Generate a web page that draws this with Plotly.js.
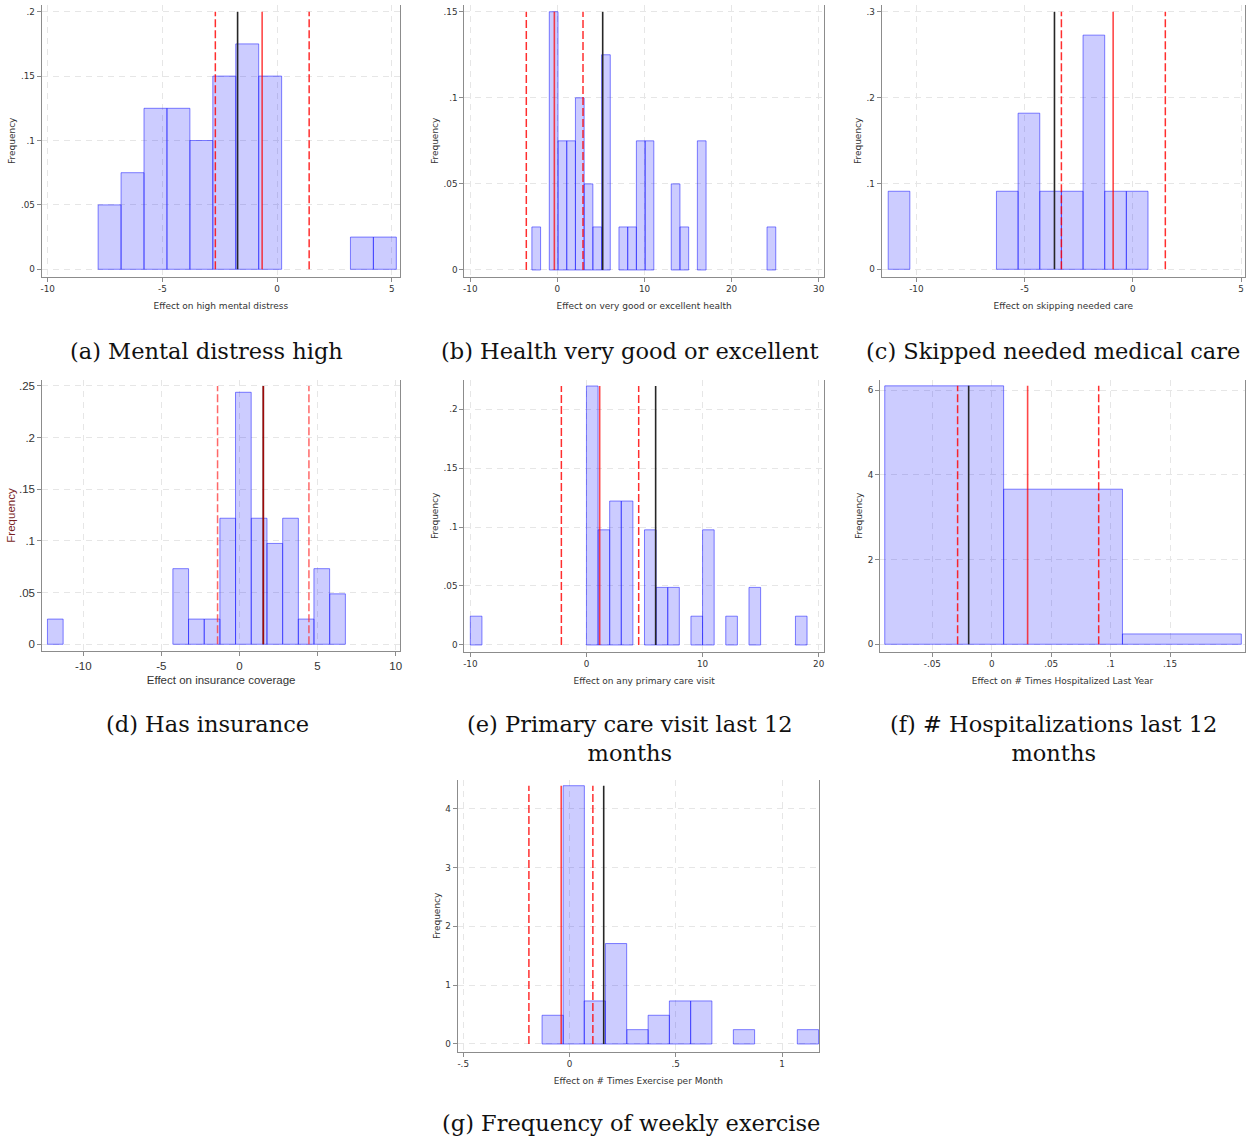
<!DOCTYPE html>
<html><head><meta charset="utf-8">
<script src="https://cdn.plot.ly/plotly-3.0.1.min.js"></script>
<style>html,body{margin:0;padding:0;background:#fff}#chart{width:1251px;height:1141px}</style>
</head><body><div id="chart"></div>
<script>
// ---------- DATA ----------
// (a) Mental distress high
const aBinLeft = [-7.8, -6.8, -5.8, -4.8, -3.8, -2.8, -1.8, -0.8, 3.2, 4.2];
const aFreq = [0.05, 0.075, 0.125, 0.125, 0.1, 0.15, 0.175, 0.15, 0.025, 0.025];
const aBinWidth = 1.0;
const aEstimate = -0.65, aCI = [-2.69, 1.40], aBenchmark = -1.72;
const aXTicks = [-10, -5, 0, 5], aXLabels = ['-10', '-5', '0', '5'];
const aYTicks = [0, 0.05, 0.1, 0.15, 0.2], aYLabels = ['0', '.05', '.1', '.15', '.2'];
const aXTitle = 'Effect on high mental distress';
const aCaption = '(a) Mental distress high';

// (b) Health very good or excellent
const bBinLeft = [-2.93, -0.93, 0.07, 1.07, 2.07, 3.07, 4.07, 5.07, 7.07, 8.07, 9.07, 10.07, 13.07, 14.07, 16.07, 24.07];
const bFreq = [0.025, 0.15, 0.075, 0.075, 0.1, 0.05, 0.025, 0.125, 0.025, 0.025, 0.075, 0.075, 0.05, 0.025, 0.075, 0.025];
const bBinWidth = 1.0;
const bEstimate = -0.35, bCI = [-3.57, 2.94], bBenchmark = 5.20;
const bXTicks = [-10, 0, 10, 20, 30], bXLabels = ['-10', '0', '10', '20', '30'];
const bYTicks = [0, 0.05, 0.1, 0.15], bYLabels = ['0', '.05', '.1', '.15'];
const bXTitle = 'Effect on very good or excellent health';
const bCaption = '(b) Health very good or excellent';

// (c) Skipped needed medical care
const cBinLeft = [-11.3, -6.3, -5.3, -4.3, -3.3, -2.3, -1.3, -0.3];
const cFreq = [0.0909, 0.0909, 0.1818, 0.0909, 0.0909, 0.2727, 0.0909, 0.0909];
const cBinWidth = 1.0;
const cEstimate = -0.91, cCI = [-3.30, 1.50], cBenchmark = -3.62;
const cXTicks = [-10, -5, 0, 5], cXLabels = ['-10', '-5', '0', '5'];
const cYTicks = [0, 0.1, 0.2, 0.3], cYLabels = ['0', '.1', '.2', '.3'];
const cXTitle = 'Effect on skipping needed care';
const cCaption = '(c) Skipped needed medical care';

// (d) Has insurance
const dBinLeft = [-12.29, -4.26, -3.26, -2.25, -1.25, -0.25, 0.76, 1.76, 2.77, 3.77, 4.77, 5.78];
const dFreq = [0.0244, 0.0732, 0.0244, 0.0244, 0.122, 0.2439, 0.122, 0.0976, 0.122, 0.0244, 0.0732, 0.0488];
const dBinWidth = 1.0036;
const dEstimate = 1.53, dCI = [-1.40, 4.45], dBenchmark = 1.53;
const dXTicks = [-10, -5, 0, 5, 10], dXLabels = ['-10', '-5', '0', '5', '10'];
const dYTicks = [0, 0.05, 0.1, 0.15, 0.2, 0.25], dYLabels = ['0', '.05', '.1', '.15', '.2', '.25'];
const dXTitle = 'Effect on insurance coverage';
const dCaption = '(d) Has insurance';

// (e) Primary care visit last 12 months
const eBinLeft = [-10, 0, 1, 2, 3, 5, 6, 7, 9, 10, 12, 14, 18];
const eFreq = [0.0244, 0.2195, 0.0976, 0.122, 0.122, 0.0976, 0.0488, 0.0488, 0.0244, 0.0976, 0.0244, 0.0488, 0.0244];
const eBinWidth = 1.0;
const eEstimate = 1.14, eCI = [-2.16, 4.50], eBenchmark = 5.96;
const eXTicks = [-10, 0, 10, 20], eXLabels = ['-10', '0', '10', '20'];
const eYTicks = [0, 0.05, 0.1, 0.15, 0.2], eYLabels = ['0', '.05', '.1', '.15', '.2'];
const eXTitle = 'Effect on any primary care visit';
const eCaption = '(e) Primary care visit last 12<br>months';

// (f) # Hospitalizations last 12 months
const fBinLeft = [-0.09, 0.01, 0.11];
const fDensity = [6.098, 3.659, 0.244];
const fBinWidth = 0.1;
const fEstimate = 0.0302, fCI = [-0.0287, 0.0900], fBenchmark = -0.0194;
const fXTicks = [-0.05, 0, 0.05, 0.1, 0.15], fXLabels = ['-.05', '0', '.05', '.1', '.15'];
const fYTicks = [0, 2, 4, 6], fYLabels = ['0', '2', '4', '6'];
const fXTitle = 'Effect on # Times Hospitalized Last Year';
const fCaption = '(f) # Hospitalizations last 12<br>months';

// (g) Frequency of weekly exercise
const gBinLeft = [-0.129, -0.030, 0.069, 0.169, 0.270, 0.370, 0.470, 0.570, 0.771, 1.072];
const gDensity = [0.488, 4.39, 0.732, 1.707, 0.244, 0.488, 0.732, 0.732, 0.244, 0.244];
const gBinWidth = 0.1;
const gEstimate = -0.039, gCI = [-0.191, 0.110], gBenchmark = 0.161;
const gXTicks = [-0.5, 0, 0.5, 1], gXLabels = ['-.5', '0', '.5', '1'];
const gYTicks = [0, 1, 2, 3, 4], gYLabels = ['0', '1', '2', '3', '4'];
const gXTitle = 'Effect on # Times Exercise per Month';
const gCaption = '(g) Frequency of weekly exercise';

const yTitle = 'Frequency';

// ---------- LAYOUT ----------
const W = 1251, H = 1141;
const STD_FONT = 'DejaVu Sans', ALT_FONT = 'Liberation Sans';

const panels = [
  {bins:aBinLeft, h:aFreq, w:aBinWidth, est:aEstimate, ci:aCI, bench:aBenchmark, xt:aXTicks, xl:aXLabels, yt:aYTicks, yl:aYLabels, xtitle:aXTitle,
   box:[41.7, 400, 5, 276.7], xr:[-10.26, 5.36], yr:[-0.00575, 0.2052], alt:false, cap:aCaption, capX:206.5, capY:351},
  {bins:bBinLeft, h:bFreq, w:bBinWidth, est:bEstimate, ci:bCI, bench:bBenchmark, xt:bXTicks, xl:bXLabels, yt:bYTicks, yl:bYLabels, xtitle:bXTitle,
   box:[464.3, 824, 5, 276.7], xr:[-10.69, 30.61], yr:[-0.0039, 0.1539], alt:false, cap:bCaption, capX:630, capY:351},
  {bins:cBinLeft, h:cFreq, w:cBinWidth, est:cEstimate, ci:cCI, bench:cBenchmark, xt:cXTicks, xl:cXLabels, yt:cYTicks, yl:cYLabels, xtitle:cXTitle,
   box:[881.7, 1245, 5, 276.7], xr:[-11.6, 5.18], yr:[-0.0086, 0.3078], alt:false, cap:cCaption, capX:1052.5, capY:351},
  {bins:dBinLeft, h:dFreq, w:dBinWidth, est:dEstimate, ci:dCI, bench:dBenchmark, xt:dXTicks, xl:dXLabels, yt:dYTicks, yl:dYLabels, xtitle:dXTitle,
   box:[42.3, 400, 380, 651], xr:[-12.62, 10.28], yr:[-0.0065, 0.2558], alt:true, cap:dCaption, capX:207.5, capY:724},
  {bins:eBinLeft, h:eFreq, w:eBinWidth, est:eEstimate, ci:eCI, bench:eBenchmark, xt:eXTicks, xl:eXLabels, yt:eYTicks, yl:eYLabels, xtitle:eXTitle,
   box:[464.3, 824, 380, 651.7], xr:[-10.52, 20.46], yr:[-0.0057, 0.2246], alt:false, cap:eCaption, capX:630, capY:738},
  {bins:fBinLeft, h:fDensity, w:fBinWidth, est:fEstimate, ci:fCI, bench:fBenchmark, xt:fXTicks, xl:fXLabels, yt:fYTicks, yl:fYLabels, xtitle:fXTitle,
   box:[880, 1245, 380, 651.7], xr:[-0.094, 0.2131], yr:[-0.175, 6.236], alt:false, cap:fCaption, capX:1053, capY:738},
  {bins:gBinLeft, h:gDensity, w:gBinWidth, est:gEstimate, ci:gCI, bench:gBenchmark, xt:gXTicks, xl:gXLabels, yt:gYTicks, yl:gYLabels, xtitle:gXTitle,
   box:[457.7, 819, 780, 1051.7], xr:[-0.526, 1.174], yr:[-0.131, 4.487], alt:false, cap:gCaption, capX:630.5, capY:1123}
];

const traces = [];
const layout = {
  width: W, height: H,
  margin: {l:0, r:0, t:0, b:0, pad:0},
  paper_bgcolor: '#ffffff', plot_bgcolor: '#ffffff',
  showlegend: false,
  annotations: []
};

panels.forEach((p, i) => {
  const s = i === 0 ? '' : String(i + 1);
  const xa = 'x' + s, ya = 'y' + s;
  const fam = p.alt ? ALT_FONT : STD_FONT;
  const fs = p.alt ? 11.5 : 8.8;
  const yTop = Math.max(...p.yt, ...p.h);

  traces.push({
    type: 'bar', x: p.bins, y: p.h, width: p.w, offset: 0,
    xaxis: xa, yaxis: ya, hoverinfo: 'x+y',
    marker: {color: 'rgba(0,0,255,0.2)', line: {color: 'rgba(30,30,255,0.55)', width: 1}}
  });
  traces.push({
    type: 'scatter', mode: 'lines', x: [p.bench, p.bench], y: [0, yTop],
    xaxis: xa, yaxis: ya, line: {color: '#262626', width: 1.6}
  });
  traces.push({
    type: 'scatter', mode: 'lines', x: [p.est, p.est], y: [0, yTop],
    xaxis: xa, yaxis: ya, line: {color: p.alt ? 'rgba(200,0,0,0.75)' : 'rgba(255,0,0,0.72)', width: 1.6}
  });
  p.ci.forEach(v => {
    traces.push({
      type: 'scatter', mode: 'lines', x: [v, v], y: [0, yTop],
      xaxis: xa, yaxis: ya, line: {color: p.alt ? 'rgba(255,40,40,0.7)' : 'rgba(255,0,0,0.82)', width: 1.5, dash: '8px,3px'}
    });
  });

  const common = {
    showgrid: true, gridcolor: '#e6e6e6', griddash: '6px,5px', gridwidth: 1,
    zeroline: false, showline: true, linecolor: '#8c8c8c', linewidth: 1,
    ticks: 'outside', ticklen: 4, tickwidth: 1, tickcolor: '#8c8c8c',
    tickfont: {family: fam, size: fs, color: '#333'},
    fixedrange: true
  };
  layout['xaxis' + s] = Object.assign({}, common, {
    domain: [p.box[0] / W, p.box[1] / W], range: p.xr, anchor: ya,
    tickmode: 'array', tickvals: p.xt, ticktext: p.xl,
    title: {text: p.xtitle, font: {family: fam, size: p.alt ? 11.5 : 9, color: '#333'}, standoff: p.alt ? 5 : 9}
  });
  layout['yaxis' + s] = Object.assign({}, common, {
    domain: [1 - p.box[3] / H, 1 - p.box[2] / H], range: p.yr, anchor: xa,
    mirror: true,
    tickmode: 'array', tickvals: p.yt, ticktext: p.yl, tickangle: 0,
    title: {text: yTitle, font: {family: fam, size: p.alt ? 11.5 : 9, color: p.alt ? '#7a1f1f' : '#333'}, standoff: p.alt ? 0 : 3}
  });

  layout.annotations.push({
    text: p.cap, xref: 'paper', yref: 'paper',
    x: p.capX / W, y: 1 - p.capY / H, xanchor: 'center', yanchor: 'middle',
    showarrow: false, align: 'center',
    font: {family: 'DejaVu Serif', size: 22.5, color: '#111'}
  });
});

Plotly.newPlot('chart', traces, layout, {staticPlot: true, displayModeBar: false});
</script>
</body></html>
